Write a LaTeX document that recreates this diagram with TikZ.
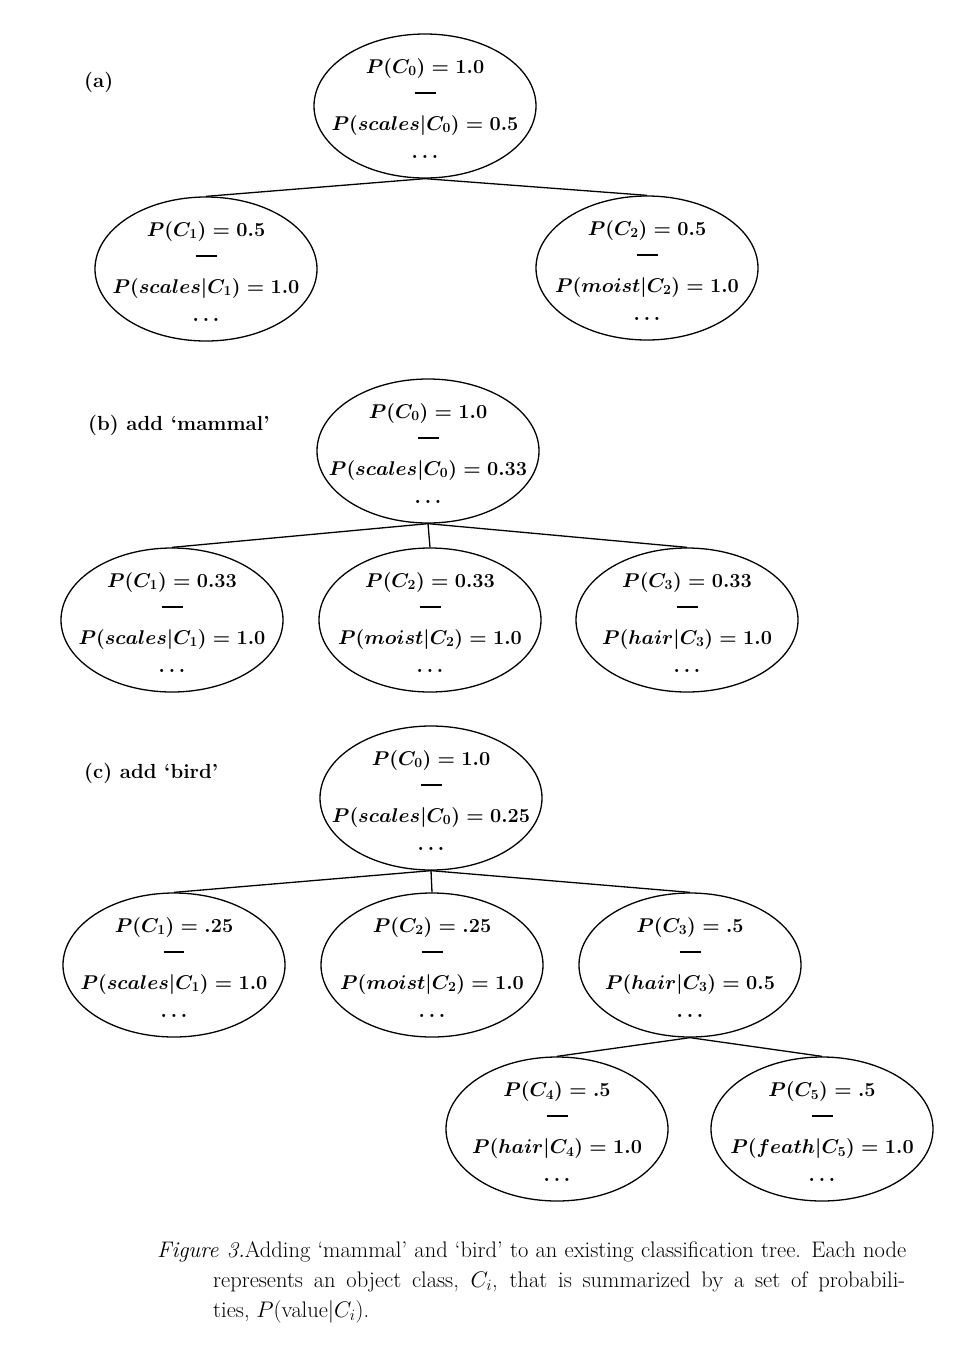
\RequirePackage{fix-cm}
\documentclass[tikz,border=0pt]{standalone}
\usetikzlibrary{shapes.geometric,calc}
\newcommand{\probcell}[4]{$P(C_{#1}) = #2$\\\rule[7.6pt]{21pt}{1.8pt}\\$P(#3|C_{#1}) = #4$\\$\ldots$}
\begin{document}
\begin{tikzpicture}[x=1pt,y=-1pt,
  ell/.style={draw, ellipse, minimum width=222pt, minimum height=144pt, inner sep=0pt, line width=1.3pt},
  txt/.style={align=center, inner sep=0pt, anchor=base, font=\fontsize{19.9}{28.5}\selectfont\bfseries\boldmath},
  lab/.style={anchor=base west, inner sep=0pt, font=\fontsize{20.4}{24}\selectfont\bfseries},
  conn/.style={line width=1.3pt}]
\useasboundingbox (0,0) rectangle (966,1350);
% (a)
\node[lab] (la) at (84,87) {(a)};
\node[ell] (a0) at (425,106) {};
\node[ell] (a1) at (206,269) {};
\node[ell] (a2) at (647,268) {};
\node[txt] (a0t) at ($(a0)+(0,52.5)$) {\probcell{0}{1.0}{scales}{0.5}};
\node[txt] (a1t) at ($(a1)+(0,52.5)$) {\probcell{1}{0.5}{scales}{1.0}};
\node[txt] (a2t) at ($(a2)+(0,52.5)$) {\probcell{2}{0.5}{moist}{1.0}};
\draw[conn] (a0.south) -- (a1.north);
\draw[conn] (a0.south) -- (a2.north);
% (b)
\node[lab] (lb) at (88,430) {(b) add `mammal'};
\node[ell] (b0) at (428,451) {};
\node[ell] (b1) at (172,620) {};
\node[ell] (b2) at (430,620) {};
\node[ell] (b3) at (687,620) {};
\node[txt] (b0t) at ($(b0)+(0,52.5)$) {\probcell{0}{1.0}{scales}{0.33}};
\node[txt] (b1t) at ($(b1)+(0,52.5)$) {\probcell{1}{0.33}{scales}{1.0}};
\node[txt] (b2t) at ($(b2)+(0,52.5)$) {\probcell{2}{0.33}{moist}{1.0}};
\node[txt] (b3t) at ($(b3)+(0,52.5)$) {\probcell{3}{0.33}{hair}{1.0}};
\draw[conn] (b0.south) -- (b1.north);
\draw[conn] (b0.south) -- (b2.north);
\draw[conn] (b0.south) -- (b3.north);
% (c)
\node[lab] (lc) at (84,778) {(c) add `bird'};
\node[ell] (c0) at (431,798) {};
\node[ell] (c1) at (174,965) {};
\node[ell] (c2) at (432,965) {};
\node[ell] (c3) at (690,965) {};
\node[ell] (c4) at (557,1129) {};
\node[ell] (c5) at (822,1129) {};
\node[txt] (c0t) at ($(c0)+(0,52.5)$) {\probcell{0}{1.0}{scales}{0.25}};
\node[txt] (c1t) at ($(c1)+(0,52.5)$) {\probcell{1}{.25}{scales}{1.0}};
\node[txt] (c2t) at ($(c2)+(0,52.5)$) {\probcell{2}{.25}{moist}{1.0}};
\node[txt] (c3t) at ($(c3)+(0,52.5)$) {\probcell{3}{.5}{hair}{0.5}};
\node[txt] (c4t) at ($(c4)+(0,52.5)$) {\probcell{4}{.5}{hair}{1.0}};
\node[txt] (c5t) at ($(c5)+(0,52.5)$) {\probcell{5}{.5}{feath}{1.0}};
\draw[conn] (c0.south) -- (c1.north);
\draw[conn] (c0.south) -- (c2.north);
\draw[conn] (c0.south) -- (c3.north);
\draw[conn] (c3.south) -- (c4.north);
\draw[conn] (c3.south) -- (c5.north);
% caption
\node[anchor=base west, inner sep=0pt, align=left, font=\fontsize{22.5}{30}\selectfont] (cap) at (157,1317)
  {\makebox[749pt][s]{\textit{Figure 3.}Adding `mammal' and `bird' to an existing classification tree. Each node}\\
   \hspace*{56pt}\makebox[692pt][s]{represents an object class, $C_i$, that is summarized by a set of probabili-}\\
   \hspace*{56pt}ties, $P(\mathrm{value}|C_i)$.};
\end{tikzpicture}
\end{document}
